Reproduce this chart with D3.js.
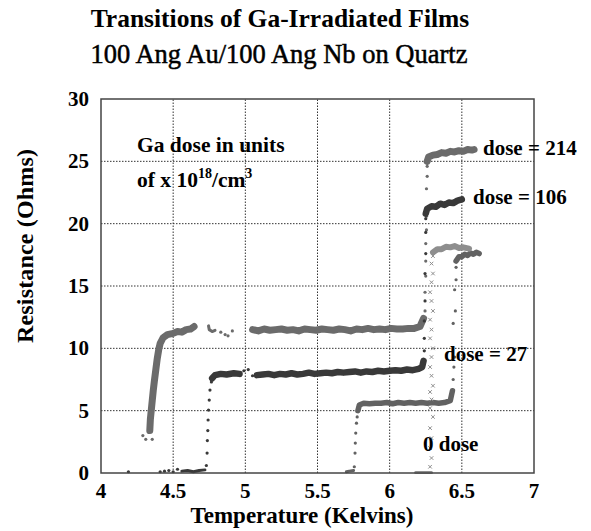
<html lang="en">
<head>
<script src="https://cdn.jsdelivr.net/npm/d3@7"></script>
<style>
  body { margin: 0; background: #fff; }
  text { font-family: "Liberation Serif", "Times New Roman", serif; fill: #000; }
</style>
</head>
<body>
<script type="text/javascript">
var w = 591, h = 531;

// axis ticks
var xTicks = [4, 4.5, 5, 5.5, 6, 6.5, 7];
var yTicks = [0, 5, 10, 15, 20, 25, 30];

// dose = 214 (two transitions)
var d214Bands = [
  [[4.338,3.4],[4.342,4.3],[4.348,5.0],[4.355,5.8],[4.362,6.6],[4.37,7.4],[4.38,8.3],[4.39,9.2],[4.40,9.9],[4.41,10.4],[4.43,10.85],[4.46,11.1],[4.50,11.2],[4.53,11.35],[4.56,11.3],[4.59,11.5],[4.62,11.55],[4.645,11.75]],
  [[4.745,11.8],[4.75,11.5],[4.77,11.35],[4.79,11.45]],
  [[5.05,11.5],[5.09,11.4],[5.13,11.55],[5.17,11.45],[5.21,11.5],[5.25,11.55],[5.29,11.45],[5.33,11.5],[5.37,11.4],[5.41,11.55],[5.45,11.5],[5.49,11.45],[5.53,11.55],[5.57,11.5],[5.61,11.45],[5.65,11.55],[5.69,11.5],[5.73,11.4],[5.77,11.55],[5.81,11.5],[5.85,11.6],[5.89,11.5],[5.93,11.55],[5.97,11.5],[6.01,11.6],[6.05,11.55],[6.09,11.55],[6.13,11.6],[6.17,11.6],[6.21,11.75],[6.235,12.4]],
  [[6.26,25.0],[6.27,25.35],[6.30,25.5],[6.33,25.55],[6.36,25.7],[6.39,25.65],[6.42,25.8],[6.45,25.75],[6.48,25.85],[6.51,25.8],[6.54,25.95],[6.57,25.9],[6.585,25.95]]
];
var d214Dots = [[4.29,3.0],[4.31,2.7],[4.355,2.7],[4.83,11.3],[4.86,11.1],[4.88,11.0],[4.91,11.4],
  [6.245,13.0],[6.245,14.5],[6.25,15.8],[6.25,17.0],[6.25,18.4],[6.255,19.5],[6.255,20.6],[6.255,22.8],[6.26,23.8],[6.26,24.6]];

// dose = 106
var d106Bands = [
  [[4.56,0.15],[4.60,0.2],[4.64,0.1],[4.68,0.2],[4.72,0.25]],
  [[4.77,7.6],[4.79,7.85],[4.83,7.95],[4.87,7.9],[4.92,8.0],[4.96,7.95]],
  [[5.08,7.85],[5.12,7.9],[5.16,7.95],[5.20,7.85],[5.24,7.95],[5.28,7.9],[5.32,8.0],[5.36,7.9],[5.40,7.95],[5.44,8.05],[5.48,7.95],[5.52,8.0],[5.56,8.05],[5.60,8.0],[5.64,8.1],[5.68,8.05],[5.72,8.1],[5.76,8.15],[5.80,8.05],[5.84,8.15],[5.88,8.1],[5.92,8.2],[5.96,8.15],[6.00,8.2],[6.04,8.25],[6.08,8.2],[6.12,8.3],[6.16,8.25],[6.20,8.35],[6.225,8.5],[6.235,9.0]],
  [[6.25,20.8],[6.26,21.2],[6.29,21.4],[6.32,21.35],[6.35,21.6],[6.38,21.5],[6.41,21.7],[6.44,21.65],[6.47,21.85],[6.50,21.95]]
];
var d106Dots = [[4.19,0.1],[4.41,0.1],[4.44,0.15],[4.47,0.2],[4.50,0.1],[4.53,0.3],
  [4.73,0.6],[4.735,1.6],[4.737,2.6],[4.74,3.4],[4.742,4.25],[4.745,5.05],[4.75,5.85],[4.755,6.65],[4.765,7.3],
  [4.99,8.2],[5.02,8.3],[5.05,7.8],
  [6.24,9.8],[6.24,10.8],[6.24,12.2],[6.245,13.8],[6.245,16.0],[6.25,17.6],[6.25,19.3],[6.25,20.4]];

// dose = 27
var d27Bands = [
  [[5.70,0.1],[5.72,0.15],[5.75,0.2]],
  [[5.78,5.0],[5.79,5.45],[5.82,5.6],[5.86,5.55],[5.90,5.6],[5.94,5.6],[5.98,5.65],[6.02,5.55],[6.06,5.65],[6.10,5.6],[6.14,5.65],[6.18,5.6],[6.22,5.65],[6.26,5.6],[6.30,5.65],[6.34,5.6],[6.38,5.65],[6.42,5.8],[6.435,6.6]],
  [[6.46,17.0],[6.48,17.35],[6.50,17.35],[6.52,17.55],[6.54,17.45],[6.56,17.65],[6.58,17.55],[6.60,17.7],[6.62,17.6]]
];
var d27Dots = [[5.755,0.5],[5.76,1.6],[5.762,2.4],[5.765,3.2],[5.77,4.0],[5.775,4.5],
  [6.44,7.5],[6.445,8.5],[6.45,9.3],[6.44,12.0],[6.455,13.0],[6.45,14.7],[6.46,15.5],[6.46,16.5]];

// 0 dose
var d0Bands = [
  [[6.18,0.05],[6.29,0.05]],
  [[6.30,17.7],[6.33,17.95],[6.36,17.95],[6.39,18.15],[6.42,18.1],[6.45,18.2],[6.48,18.05],[6.51,18.1],[6.55,18.0]]
];
var d0Marks = [[6.28,0.5],[6.29,1.2],[6.28,2.0],[6.29,2.8],[6.28,3.6],[6.30,4.5],[6.28,5.2],[6.29,5.9],[6.28,6.5],[6.30,7.0],[6.29,7.8],[6.28,8.5],[6.29,9.3],[6.30,10.0],[6.28,10.8],[6.29,11.5],[6.28,12.3],[6.30,13.0],[6.29,13.8],[6.28,14.5],[6.29,15.3],[6.30,16.0],[6.29,16.8],[6.30,17.4]];

var series = [
  {bands: d214Bands, dots: d214Dots, color: "#6b6b6b", width: 7},
  {bands: d106Bands, dots: d106Dots, color: "#393939", width: 6.5},
  {bands: d27Bands, dots: d27Dots, color: "#626262", width: 5.5},
  {bands: d0Bands, dots: [], color: "#8e8e8e", width: 6}
];

var svg = d3.select("body").append("svg").attr("width", w).attr("height", h);

var x = d3.scaleLinear().domain([4, 7]).range([101, 534]);
var y = d3.scaleLinear().domain([0, 30]).range([473, 99]);

// grid
svg.append("g").selectAll("line").data(xTicks.slice(1, -1)).enter().append("line")
  .attr("x1", function(d){ return x(d); }).attr("x2", function(d){ return x(d); })
  .attr("y1", y(0)).attr("y2", y(30))
  .attr("stroke", "#333").attr("stroke-width", 1).attr("stroke-dasharray", "1.5,1.5");
svg.append("g").selectAll("line").data(yTicks.slice(1, -1)).enter().append("line")
  .attr("y1", function(d){ return y(d); }).attr("y2", function(d){ return y(d); })
  .attr("x1", x(4)).attr("x2", x(7))
  .attr("stroke", "#333").attr("stroke-width", 1).attr("stroke-dasharray", "1.5,1.5");

// data
var line = d3.line().x(function(d){ return x(d[0]); }).y(function(d){ return y(d[1]); });
series.forEach(function(s){
  var g = svg.append("g");
  g.selectAll("path").data(s.bands).enter().append("path")
    .attr("d", line)
    .attr("fill", "none").attr("stroke", s.color)
    .attr("stroke-width", function(d){ return d.length < 6 ? 3 : s.width; })
    .attr("stroke-linejoin", "round").attr("stroke-linecap", "round");
  g.selectAll("circle").data(s.dots).enter().append("circle")
    .attr("cx", function(d){ return x(d[0]); }).attr("cy", function(d){ return y(d[1]); })
    .attr("r", 1.6).attr("fill", s.color);
});
svg.append("g").selectAll("path").data(d0Marks).enter().append("path")
  .attr("transform", function(d){ return "translate(" + x(d[0]) + "," + y(d[1]) + ")"; })
  .attr("d", d3.symbol().type(d3.symbolX).size(10))
  .attr("fill", "none").attr("stroke", "#8e8e8e").attr("stroke-width", 1);

// frame
svg.append("rect").attr("x", x(4)).attr("y", y(30))
  .attr("width", x(7) - x(4)).attr("height", y(0) - y(30))
  .attr("fill", "none").attr("stroke", "#444").attr("stroke-width", 1.5);

// tick labels
svg.append("g").selectAll("text").data(yTicks).enter().append("text")
  .attr("x", 89).attr("y", function(d){ return y(d) + 7; })
  .attr("text-anchor", "end").attr("font-size", 21).attr("font-weight", "bold")
  .text(function(d){ return d; });
svg.append("g").selectAll("text").data(xTicks).enter().append("text")
  .attr("x", function(d){ return x(d); }).attr("y", 498)
  .attr("text-anchor", "middle").attr("font-size", 21).attr("font-weight", "bold")
  .text(function(d){ return d; });

// titles
svg.append("text").attr("x", 280).attr("y", 27).attr("text-anchor", "middle")
  .attr("font-size", 25.5).attr("font-weight", "bold").text("Transitions of Ga-Irradiated Films");
svg.append("text").attr("x", 279).attr("y", 63).attr("text-anchor", "middle")
  .attr("font-size", 26.5).attr("stroke", "#000").attr("stroke-width", 0.5)
  .text("100 Ang Au/100 Ang Nb on Quartz");
svg.append("text").attr("x", 302).attr("y", 523).attr("text-anchor", "middle")
  .attr("font-size", 23).attr("font-weight", "bold").text("Temperature (Kelvins)");
svg.append("text").attr("transform", "translate(33,246) rotate(-90)").attr("text-anchor", "middle")
  .attr("font-size", 24).attr("font-weight", "bold")
  .attr("textLength", 194).attr("lengthAdjust", "spacing").text("Resistance (Ohms)");

// annotations
svg.append("text").attr("x", 137).attr("y", 152).attr("font-size", 21.5).attr("font-weight", "bold")
  .text("Ga dose in units");
var unit = svg.append("text").attr("x", 137).attr("y", 187).attr("font-size", 21.5).attr("font-weight", "bold");
unit.append("tspan").text("of x 10");
unit.append("tspan").attr("dy", -9).attr("font-size", 14).text("18");
unit.append("tspan").attr("dy", 9).text("/cm");
unit.append("tspan").attr("dy", -9).attr("font-size", 14).text("3");

var labels = [
  {t: "dose = 214", x: 483, y: 155},
  {t: "dose = 106", x: 473, y: 204},
  {t: "dose = 27", x: 444, y: 361},
  {t: "0 dose", x: 423, y: 451}
];
svg.append("g").selectAll("text").data(labels).enter().append("text")
  .attr("x", function(d){ return d.x; }).attr("y", function(d){ return d.y; })
  .attr("font-size", 21).attr("font-weight", "bold")
  .text(function(d){ return d.t; });
</script>
</body>
</html>
